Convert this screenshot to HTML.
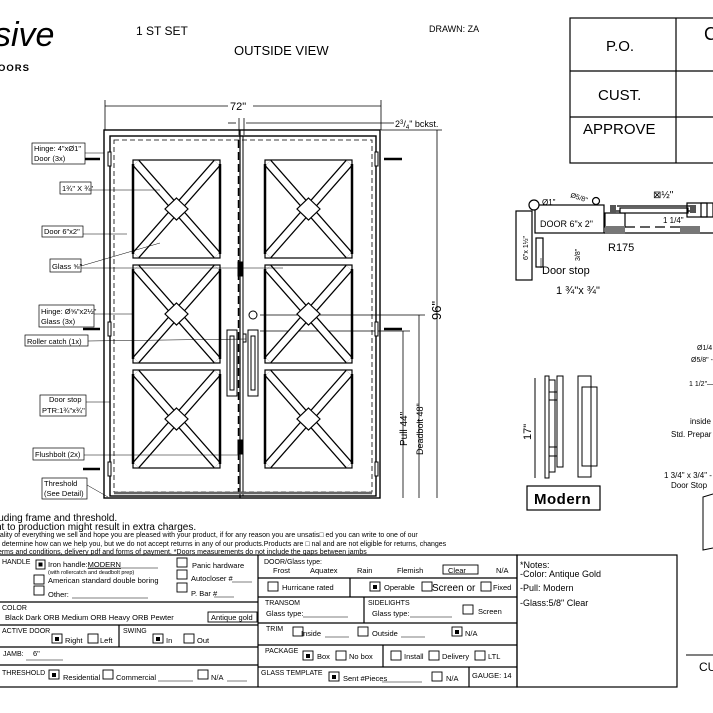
<!DOCTYPE html>
<html><head><meta charset="utf-8"><style>
html,body{margin:0;padding:0;background:#fff}
svg{display:block}
text{font-family:"Liberation Sans",sans-serif;fill:#000}
</style></head><body>
<svg width="713" height="713" viewBox="0 0 713 713" xmlns="http://www.w3.org/2000/svg">
<defs>
<g id="pnl">
 <rect x="0" y="0" width="87" height="98" fill="none" stroke="#000" stroke-width="1.2"/>
 <line x1="3" y1="3" x2="84" y2="95" stroke="#000" stroke-width="9"/>
 <line x1="3" y1="3" x2="84" y2="95" stroke="#fff" stroke-width="6.5"/>
 <line x1="84" y1="3" x2="3" y2="95" stroke="#000" stroke-width="9"/>
 <line x1="84" y1="3" x2="3" y2="95" stroke="#fff" stroke-width="6.5"/>
 <polygon points="43.5,38 55,49 43.5,60 32,49" fill="#fff" stroke="#000" stroke-width="1.2"/>
 <line x1="0" y1="4" x2="0" y2="94" stroke="#000" stroke-width="2.5"/>
 <line x1="87" y1="4" x2="87" y2="94" stroke="#000" stroke-width="2.5"/>
</g>
</defs>

<!-- header -->
<text x="-6" y="46" font-family="Liberation Serif" font-style="italic" font-size="34">sive</text>
<text x="-2" y="71" font-size="9.5" font-weight="bold" letter-spacing="1">OORS</text>
<text x="136" y="35" font-size="12">1 ST SET</text>
<text x="234" y="55" font-size="13">OUTSIDE VIEW</text>
<text x="429" y="32" font-size="9">DRAWN: ZA</text>

<!-- title table -->
<g stroke="#000" stroke-width="1.2" fill="none">
<rect x="570" y="18" width="150" height="145"/>
<line x1="676" y1="18" x2="676" y2="163"/>
<line x1="570" y1="71" x2="713" y2="71"/>
<line x1="570" y1="117" x2="713" y2="117"/>
</g>
<text x="606" y="51" font-size="15">P.O.</text>
<text x="598" y="100" font-size="15">CUST.</text>
<text x="583" y="134" font-size="15">APPROVE</text>
<text x="704" y="40" font-size="18">C</text>

<!-- dimensions top -->
<g stroke="#000" stroke-width="0.8" fill="none">
<line x1="105" y1="106" x2="381" y2="106"/>
<line x1="105" y1="100" x2="105" y2="130"/>
<line x1="381" y1="100" x2="381" y2="130"/>
<line x1="228" y1="123" x2="236" y2="123"/>
<line x1="246" y1="123" x2="394" y2="123"/>
<line x1="239" y1="118" x2="239" y2="135"/>
<line x1="244" y1="118" x2="244" y2="135"/>
<line x1="381" y1="130" x2="442" y2="130"/>
<line x1="437" y1="130" x2="437" y2="498"/>
<line x1="419" y1="315" x2="419" y2="498"/>
<line x1="403" y1="331" x2="403" y2="498"/>
<line x1="260" y1="315" x2="425" y2="315"/>
<line x1="260" y1="331" x2="410" y2="331"/>
</g>
<text x="232" y="110" font-size="11" fill="#000">72"</text>
<rect x="228" y="101" width="25" height="11" fill="#fff"/>
<text x="230" y="110" font-size="11">72"</text>
<text x="395" y="127" font-size="9">2<tspan font-size="6" dy="-3">3</tspan><tspan dy="3">/</tspan><tspan font-size="6" dy="2">4</tspan><tspan dy="-2">" bckst.</tspan></text>
<text transform="translate(441,320) rotate(-90)" font-size="13">96"</text>
<text transform="translate(423,455) rotate(-90)" font-size="9">Deadbolt 48"</text>
<text transform="translate(407,446) rotate(-90)" font-size="10">Pull 44"</text>

<!-- door frame -->
<g stroke="#000" fill="none">
<rect x="104" y="130" width="276" height="368" stroke-width="1.4"/>
<rect x="110" y="136" width="266" height="360" stroke-width="1.4"/>
<rect x="114" y="140" width="258" height="352" stroke-width="0.8" stroke-dasharray="5,3"/>
<line x1="240" y1="130" x2="240" y2="498" stroke-width="1.2"/>
<line x1="238.5" y1="140" x2="238.5" y2="492" stroke-width="1.5" stroke-dasharray="8,4"/>
<line x1="243" y1="136" x2="243" y2="496" stroke-width="1"/>
<line x1="114" y1="493" x2="372" y2="493" stroke-width="2.5" stroke="#666"/>
</g>
<use href="#pnl" x="133" y="160"/>
<use href="#pnl" x="133" y="265"/>
<use href="#pnl" x="133" y="370"/>
<use href="#pnl" x="265" y="160"/>
<use href="#pnl" x="265" y="265"/>
<use href="#pnl" x="265" y="370"/>

<!-- handles -->
<g stroke="#000" fill="none" stroke-width="1">
<rect x="227" y="330" width="10" height="66"/>
<rect x="230" y="336" width="4" height="54"/>
<rect x="248" y="330" width="10" height="66"/>
<rect x="251" y="336" width="4" height="54"/>
<circle cx="253" cy="315" r="4"/>
<rect x="238" y="262" width="4" height="14" fill="#000"/>
<rect x="238" y="440" width="4" height="14" fill="#000"/>
<rect x="243" y="334" width="3" height="8"/>
</g>
<!-- hinges -->
<g stroke="#000">
<line x1="83" y1="159" x2="100" y2="159" stroke-width="2.5"/>
<line x1="83" y1="329" x2="100" y2="329" stroke-width="2.5"/>
<line x1="83" y1="469" x2="100" y2="469" stroke-width="2.5"/>
<line x1="384" y1="159" x2="402" y2="159" stroke-width="2.5"/>
<line x1="384" y1="329" x2="402" y2="329" stroke-width="2.5"/>
<rect x="108" y="152" width="3" height="14" fill="#fff"/>
<rect x="108" y="322" width="3" height="14" fill="#fff"/>
<rect x="108" y="462" width="3" height="14" fill="#fff"/>
<rect x="375" y="152" width="3" height="14" fill="#fff"/>
<rect x="375" y="322" width="3" height="14" fill="#fff"/>
<rect x="375" y="462" width="3" height="14" fill="#fff"/>
</g>

<!-- left labels -->
<g stroke="#000" fill="#fff" stroke-width="0.7">
<rect x="32" y="143" width="53" height="21"/>
<rect x="60" y="182" width="31" height="12"/>
<rect x="42" y="226" width="41" height="11"/>
<rect x="50" y="259" width="31" height="13"/>
<rect x="39" y="305" width="55" height="22"/>
<rect x="25" y="335" width="63" height="11"/>
<rect x="40" y="395" width="46" height="21"/>
<rect x="33" y="448" width="51" height="12"/>
<rect x="42" y="478" width="45" height="21"/>
</g>
<g stroke="#000" stroke-width="0.5" fill="none">
<line x1="85" y1="153" x2="104" y2="153"/>
<line x1="91" y1="190" x2="160" y2="190"/>
<line x1="83" y1="234" x2="127" y2="234"/>
<line x1="81" y1="266" x2="160" y2="243"/>
<line x1="81" y1="268" x2="283" y2="268"/>
<line x1="94" y1="314" x2="133" y2="314"/>
<line x1="88" y1="341" x2="246" y2="339"/>
<line x1="86" y1="402" x2="110" y2="402"/>
<line x1="84" y1="455" x2="238" y2="455"/>
<line x1="87" y1="485" x2="108" y2="497"/>
</g>
<g font-size="7.5">
<text x="34" y="151">Hinge: 4"xØ1"</text>
<text x="34" y="161">Door (3x)</text>
<text x="62" y="191">1¾" X ¾"</text>
<text x="44" y="234">Door 6"x2"</text>
<text x="52" y="269">Glass ⅝"</text>
<text x="41" y="314">Hinge: Ø⅝"x2½"</text>
<text x="41" y="324">Glass (3x)</text>
<text x="27" y="344">Roller catch  (1x)</text>
<text x="49" y="402">Door stop</text>
<text x="42" y="413">PTR:1¾"x¾"</text>
<text x="35" y="457">Flushbolt (2x)</text>
<text x="44" y="486">Threshold</text>
<text x="44" y="496">(See Detail)</text>
</g>

<!-- section detail -->
<g stroke="#000" fill="none" stroke-width="1.2">
<rect x="516" y="211" width="16" height="69"/>
<rect x="535" y="205" width="69" height="28"/>
<circle cx="534" cy="205" r="5" fill="#fff"/>
<circle cx="596" cy="201" r="3.5" fill="#fff"/>
<rect x="536" y="238" width="7" height="29"/>
<rect x="605" y="213" width="20" height="14"/>
<line x1="615" y1="211" x2="690" y2="211"/>
<line x1="617" y1="206" x2="690" y2="206"/>
<rect x="620" y="208" width="68" height="5" fill="#fff"/>
<rect x="687" y="203" width="20" height="14"/>
<rect x="701" y="203" width="12" height="14"/>
<line x1="604" y1="233" x2="713" y2="233"/>
<line x1="625" y1="227" x2="690" y2="227" stroke-dasharray="10,5"/>
</g>
<rect x="605" y="226" width="20" height="8" fill="#777"/>
<rect x="680" y="226" width="20" height="8" fill="#777"/>
<rect x="610" y="205" width="6" height="8" fill="#555"/>
<rect x="690" y="205" width="6" height="8" fill="#555"/>
<g font-size="8">
<text x="542" y="205">Ø1"</text>
<text transform="translate(570,197) rotate(18)" font-size="7">Ø5/8"</text>
<text x="540" y="227" font-size="9">DOOR 6"x 2"</text>
<text x="663" y="223">1 1/4"</text>
<text transform="translate(580,261) rotate(-90)" font-size="7">3/8"</text>
<text transform="translate(528,260) rotate(-90)" font-size="7">6"x 1½"</text>
<text x="608" y="251" font-size="11">R175</text>
<text x="542" y="274" font-size="11">Door stop</text>
<text x="556" y="294" font-size="11">1 ¾"x ¾"</text>
<text x="653" y="198" font-size="10">⊠½"</text>
</g>
<line x1="541" y1="268" x2="541" y2="258" stroke="#000" stroke-width="0.6"/>

<!-- Modern handle -->
<g stroke="#000" fill="none" stroke-width="1">
<line x1="535" y1="378" x2="535" y2="478"/>
<rect x="545" y="376" width="4" height="102"/>
<rect x="549" y="380" width="6" height="92"/>
<rect x="557" y="376" width="6" height="91"/>
<line x1="549" y1="392" x2="557" y2="392"/><line x1="549" y1="400" x2="557" y2="400"/>
<line x1="549" y1="447" x2="557" y2="447"/><line x1="549" y1="456" x2="557" y2="456"/>
<rect x="578" y="376" width="13" height="101"/>
<rect x="582" y="387" width="15" height="79"/>
<rect x="527" y="486" width="73" height="24" stroke-width="1.2"/>
</g>
<text transform="translate(531,440) rotate(-90)" font-size="11">17"</text>
<text x="534" y="504" font-family="Liberation Serif" font-weight="bold" font-size="15" letter-spacing="0.5">Modern</text>

<!-- right snippets -->
<g font-size="7">
<text x="697" y="350">Ø1/4</text>
<text x="691" y="362">Ø5/8" -</text>
<text x="689" y="386">1 1/2"—</text>
<text x="690" y="424" font-size="8">inside</text>
<text x="671" y="437" font-size="8">Std. Prepar</text>
<text x="664" y="478" font-size="8">1 3/4" x 3/4" -</text>
<text x="671" y="488" font-size="8">Door Stop</text>
<text x="699" y="671" font-size="12">CU</text>
</g>
<g stroke="#000" fill="none" stroke-width="1">
<polyline points="713,494 703,497 703,550 713,548"/>
<line x1="686" y1="655" x2="713" y2="655"/>
</g>

<!-- notes text -->
<text x="-4" y="521" font-size="10">luding frame and threshold.</text>
<text x="-4" y="530" font-size="10">nt to production might result in extra charges.</text>
<text x="-4" y="537" font-size="7">uality of everything we sell and hope you are pleased with your product, if for any reason you are unsatis□ ed you can write to one of our</text>
<text x="-4" y="546" font-size="7">d determine how can we help you, but we do not accept returns in any of our products.Products are □ nal and are not eligible for returns, changes</text>
<text x="-4" y="554" font-size="7">terms and conditions, delivery pdf and forms of payment. *Doors measurements do not include the gaps between jambs</text>

<!-- form -->
<g stroke="#000" fill="none" stroke-width="1.2">
<rect x="-2" y="555" width="519" height="132"/>
<line x1="258" y1="555" x2="258" y2="687"/>
<rect x="517" y="555" width="160" height="132"/>
<line x1="-2" y1="602" x2="258" y2="602"/>
<line x1="-2" y1="625" x2="258" y2="625"/>
<line x1="-2" y1="647" x2="258" y2="647"/>
<line x1="-2" y1="665" x2="258" y2="665"/>
<line x1="119" y1="625" x2="119" y2="647"/>
<line x1="258" y1="578" x2="517" y2="578"/>
<line x1="258" y1="597" x2="517" y2="597"/>
<line x1="258" y1="623" x2="517" y2="623"/>
<line x1="258" y1="645" x2="517" y2="645"/>
<line x1="258" y1="667" x2="517" y2="667"/>
<line x1="350" y1="578" x2="350" y2="597"/>
<line x1="364" y1="597" x2="364" y2="623"/>
<line x1="383" y1="645" x2="383" y2="667"/>
<line x1="469" y1="667" x2="469" y2="687"/>
</g>
<!-- checkboxes -->
<g stroke="#000" fill="#fff" stroke-width="0.9">
<rect x="36" y="560" width="9" height="9"/>
<rect x="34" y="575" width="10" height="9"/>
<rect x="34" y="586" width="10" height="9"/>
<rect x="177" y="558" width="10" height="9"/>
<rect x="177" y="570" width="10" height="9"/>
<rect x="177" y="583" width="10" height="9"/>
<rect x="52" y="634" width="10" height="9"/>
<rect x="88" y="634" width="10" height="9"/>
<rect x="153" y="634" width="10" height="9"/>
<rect x="184" y="634" width="10" height="9"/>
<rect x="49" y="670" width="10" height="9"/>
<rect x="103" y="670" width="10" height="9"/>
<rect x="198" y="670" width="10" height="9"/>
<rect x="208" y="612" width="49" height="10"/>
<rect x="268" y="582" width="10" height="9"/>
<rect x="370" y="582" width="10" height="9"/>
<rect x="422" y="582" width="10" height="9"/>
<rect x="481" y="582" width="10" height="9"/>
<rect x="463" y="605" width="10" height="9"/>
<rect x="293" y="627" width="10" height="9"/>
<rect x="358" y="627" width="10" height="9"/>
<rect x="452" y="627" width="10" height="9"/>
<rect x="303" y="651" width="10" height="9"/>
<rect x="336" y="651" width="10" height="9"/>
<rect x="391" y="651" width="10" height="9"/>
<rect x="429" y="651" width="10" height="9"/>
<rect x="475" y="651" width="10" height="9"/>
<rect x="329" y="672" width="10" height="9"/>
<rect x="432" y="672" width="10" height="9"/>
<rect x="443" y="565" width="35" height="9"/>
</g>
<g fill="#000">
<rect x="38.5" y="562.5" width="4" height="4"/>
<rect x="55" y="637" width="4" height="4"/>
<rect x="156" y="637" width="4" height="4"/>
<rect x="52" y="673" width="4" height="4"/>
<rect x="373" y="585" width="4" height="4"/>
<rect x="455" y="630" width="4" height="4"/>
<rect x="306" y="654" width="4" height="4"/>
<rect x="332" y="675" width="4" height="4"/>
</g>
<g font-size="7.5">
<text x="2" y="564" font-size="7">HANDLE</text>
<text x="48" y="567">Iron handle:<tspan text-decoration="underline">MODERN</tspan></text>
<line x1="88" y1="568" x2="158" y2="568" stroke="#000" stroke-width="0.6"/>
<text x="48" y="574" font-size="5.5">(with rollercatch and deadbolt prep)</text>
<text x="48" y="583">American standard double boring</text>
<text x="48" y="597">Other:</text>
<line x1="72" y1="598" x2="148" y2="598" stroke="#000" stroke-width="0.6"/>
<text x="192" y="568">Panic hardware</text>
<text x="191" y="581">Autocloser #</text>
<line x1="232" y1="582" x2="252" y2="582" stroke="#000" stroke-width="0.6"/>
<text x="191" y="596">P. Bar #</text>
<line x1="214" y1="597" x2="234" y2="597" stroke="#000" stroke-width="0.6"/>
<text x="2" y="610" font-size="7">COLOR</text>
<text x="5" y="620">Black  Dark ORB  Medium ORB   Heavy ORB   Pewter</text>
<text x="211" y="620">Antique gold</text>
<text x="2" y="633" font-size="7">ACTIVE DOOR</text>
<text x="65" y="643">Right</text>
<text x="100" y="643">Left</text>
<text x="123" y="633" font-size="7">SWING</text>
<text x="166" y="643">In</text>
<text x="197" y="643">Out</text>
<text x="3" y="656" font-size="7">JAMB:</text>
<text x="33" y="656">6"</text>
<line x1="26" y1="660" x2="63" y2="660" stroke="#000" stroke-width="0.6"/>
<text x="2" y="675" font-size="7">THRESHOLD</text>
<text x="63" y="680">Residential</text>
<text x="116" y="680">Commercial</text>
<line x1="158" y1="681" x2="193" y2="681" stroke="#000" stroke-width="0.6"/>
<text x="211" y="680">N/A</text>
<line x1="227" y1="681" x2="247" y2="681" stroke="#000" stroke-width="0.6"/>

<text x="264" y="564" font-size="7">DOOR/Glass type:</text>
<text x="273" y="573">Frost</text>
<text x="310" y="573">Aquatex</text>
<text x="357" y="573">Rain</text>
<text x="397" y="573">Flemish</text>
<text x="448" y="573">Clear</text>
<text x="496" y="573">N/A</text>
<text x="282" y="590">Hurricane rated</text>
<text x="384" y="590">Operable</text>
<text x="432" y="591" font-size="10">Screen or</text>
<text x="493" y="590">Fixed</text>
<text x="265" y="605" font-size="7">TRANSOM</text>
<text x="266" y="616">Glass type:</text>
<line x1="303" y1="617" x2="348" y2="617" stroke="#000" stroke-width="0.6"/>
<text x="368" y="605" font-size="7">SIDELIGHTS</text>
<text x="372" y="616">Glass type:</text>
<line x1="410" y1="617" x2="452" y2="617" stroke="#000" stroke-width="0.6"/>
<text x="478" y="614">Screen</text>
<text x="266" y="631" font-size="7">TRIM</text>
<text x="301" y="636">Inside</text>
<line x1="325" y1="637" x2="349" y2="637" stroke="#000" stroke-width="0.6"/>
<text x="372" y="636">Outside</text>
<line x1="401" y1="637" x2="425" y2="637" stroke="#000" stroke-width="0.6"/>
<text x="465" y="636">N/A</text>
<text x="265" y="653" font-size="7">PACKAGE</text>
<text x="317" y="659">Box</text>
<text x="349" y="659">No box</text>
<text x="404" y="659">Install</text>
<text x="442" y="659">Delivery</text>
<text x="488" y="659">LTL</text>
<text x="261" y="675" font-size="7">GLASS TEMPLATE</text>
<text x="343" y="681">Sent #Pieces</text>
<line x1="382" y1="682" x2="422" y2="682" stroke="#000" stroke-width="0.6"/>
<text x="446" y="681">N/A</text>
<text x="472" y="678">GAUGE: 14</text>

<text x="520" y="568" font-size="9">*Notes:</text>
<text x="520" y="577" font-size="9" fill="#d0202a">-Color: Antique Gold</text>
<text x="520" y="591" font-size="9" fill="#d0202a">-Pull: Modern</text>
<text x="520" y="606" font-size="9" fill="#d0202a">-Glass:5/8"   Clear</text>
</g>
</svg>
</body></html>
